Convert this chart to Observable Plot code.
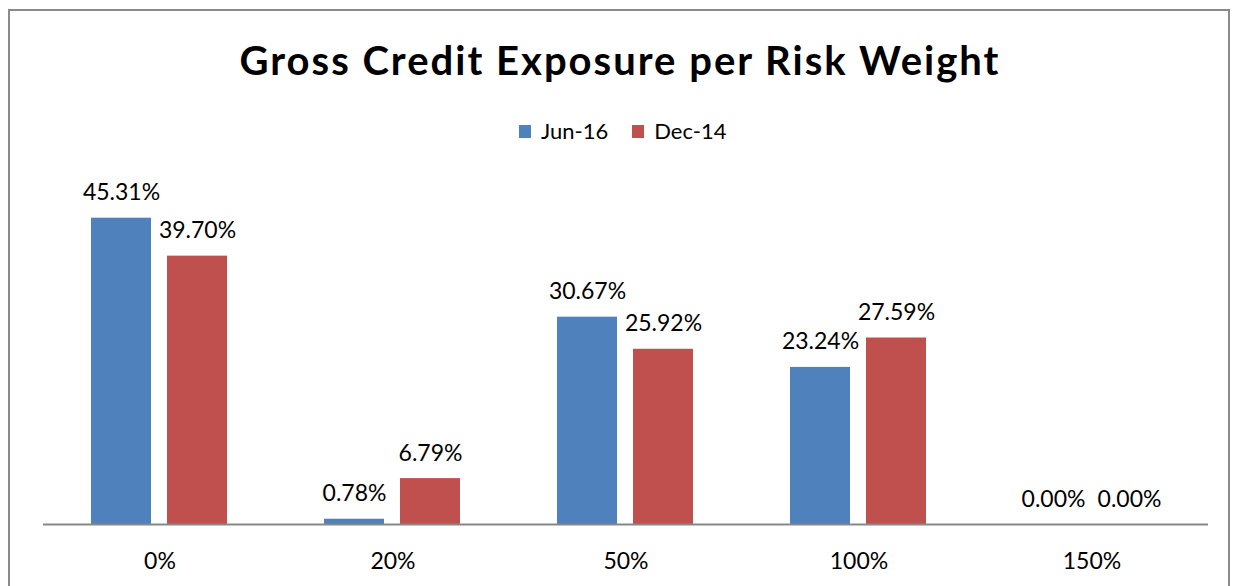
<!DOCTYPE html>
<html>
<head>
<meta charset="utf-8">
<script src="https://cdn.jsdelivr.net/npm/d3@7"></script>
<script src="https://cdn.jsdelivr.net/npm/@observablehq/plot@0.6"></script>
<style>
  html, body { margin: 0; padding: 0; background: #fff; }
  #wrap { position: relative; width: 1235px; height: 586px; overflow: hidden; font-family: Lato, "Open Sans", sans-serif; color: #000; }
  #frame { position: absolute; left: 8px; top: 9px; width: 1222px; height: 600px; border: 2px solid #8a8a8a; box-sizing: border-box; }
  #title { position: absolute; left: 8px; width: 1224px; top: 40px; text-align: center; font-size: 40px; line-height: 40px; font-weight: 700; letter-spacing: 2px; white-space: nowrap; }
  #legend { position: absolute; left: 519px; top: 120px; display: flex; align-items: center; font-size: 22px; line-height: 22px; white-space: nowrap; }
  .item { display: flex; align-items: center; margin-right: 24px; }
  .sw { width: 12px; height: 13px; margin-right: 10px; display: inline-block; }
  #chart { position: absolute; left: 0; top: 150px; }
</style>
</head>
<body>
<div id="wrap">
  <div id="frame"></div>
  <div id="title">Gross Credit Exposure per Risk Weight</div>
  <div id="legend"></div>
  <div id="chart"></div>
</div>
<script>
const categories = ["0%", "20%", "50%", "100%", "150%"];
const series = ["Jun-16", "Dec-14"];
const jun16 = [45.31, 0.78, 30.67, 23.24, 0.00];
const dec14 = [39.70, 6.79, 25.92, 27.59, 0.00];
const colors = ["#4F81BD", "#C0504D"];

const values = {"Jun-16": jun16, "Dec-14": dec14};
const data = [];
categories.forEach((c, i) => {
  series.forEach(s => data.push({category: c, series: s, value: values[s][i]}));
});

// legend
const legend = document.getElementById("legend");
series.forEach((s, i) => {
  const item = document.createElement("div");
  item.className = "item";
  const sw = document.createElement("span");
  sw.className = "sw";
  sw.style.background = colors[i];
  const t = document.createElement("span");
  t.textContent = s;
  item.appendChild(sw);
  item.appendChild(t);
  legend.appendChild(item);
});

const chart = Plot.plot({
  width: 1235,
  height: 436,
  marginLeft: 42,
  marginRight: 26,
  marginTop: 36,
  marginBottom: 62,
  style: {fontFamily: "Lato, 'Open Sans', sans-serif", fontSize: "23px", color: "#000", background: "transparent", overflow: "visible"},
  fx: {domain: categories, padding: 0, axis: "bottom", tickSize: 0, tickPadding: 28, label: null},
  x: {domain: series, paddingInner: 16 / 77, paddingOuter: 0.62, axis: null},
  y: {domain: [0, 50], axis: null},
  color: {domain: series, range: colors},
  marks: [
    Plot.barY(data, {fx: "category", x: "series", y: "value", fill: "series"}),
    Plot.ruleY([0], {stroke: "#878787", strokeWidth: 2}),
    Plot.text(data, {fx: "category", x: "series", y: "value", text: d => d.value.toFixed(2) + "%", dy: -18, lineAnchor: "bottom", fontSize: 23, fill: "#000"})
  ]
});
document.getElementById("chart").appendChild(chart);
</script>
</body>
</html>
